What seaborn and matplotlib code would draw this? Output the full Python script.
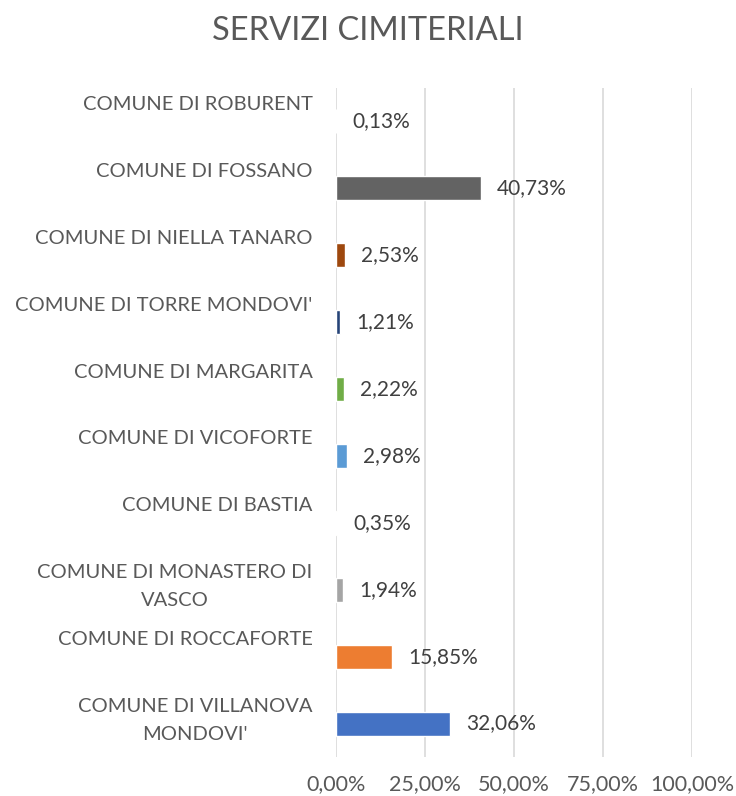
import matplotlib
matplotlib.use("Agg")
import matplotlib.pyplot as plt
import matplotlib.transforms as mtransforms
import seaborn as sns
import pandas as pd
from matplotlib.ticker import FixedLocator

categories = [
    "COMUNE DI ROBURENT",
    "COMUNE DI FOSSANO",
    "COMUNE DI NIELLA TANARO",
    "COMUNE DI TORRE MONDOVI'",
    "COMUNE DI MARGARITA",
    "COMUNE DI VICOFORTE",
    "COMUNE DI BASTIA",
    "COMUNE DI MONASTERO DI\nVASCO",
    "COMUNE DI ROCCAFORTE",
    "COMUNE DI VILLANOVA\nMONDOVI'",
]
values = [0.13, 40.73, 2.53, 1.21, 2.22, 2.98, 0.35, 1.94, 15.85, 32.06]
colors = ["#997300", "#636363", "#9E480E", "#264478", "#70AD47",
          "#5B9BD5", "#FFC000", "#A5A5A5", "#ED7D31", "#4472C4"]
xticks = [0, 25, 50, 75, 100]
xticklabels = ["0,00%", "25,00%", "50,00%", "75,00%", "100,00%"]
title = "SERVIZI CIMITERIALI"

sns.set_theme(style="white")
plt.rcParams["font.family"] = ["Lato", "DejaVu Sans"]

df = pd.DataFrame({"cat": categories, "val": values})

fig = plt.figure(figsize=(7.36, 7.96), dpi=100)
ax = fig.add_axes([336/736, 1-757/796, (692-336)/736, (757-88)/796])

sns.barplot(data=df, y="cat", x="val", hue="cat", palette=colors,
            dodge=False, legend=False, width=0.36, orient="h", ax=ax,
            saturation=1, zorder=3)

ax.set_xlim(0, 100)
ax.set_ylim(9.5, -0.5)
ax.xaxis.set_major_locator(FixedLocator(xticks))
ax.set_xticklabels(xticklabels)
ax.grid(axis="x", color="#D9D9D9", linewidth=1.2, zorder=0)
ax.set_axisbelow(True)
for s in ax.spines.values():
    s.set_visible(False)
ax.set_xlabel("")
ax.set_ylabel("")

# y labels: keep a two-line block for every label
labs = [c if "\n" in c else c + "\n" for c in categories]
ax.set_yticks(range(len(categories)))
ax.set_yticklabels(labs, multialignment="center", linespacing=1.75)
ax.tick_params(axis="y", length=0, pad=17, labelsize=14.5, labelcolor="#595959")
ax.tick_params(axis="x", length=0, pad=12, labelsize=15.5, labelcolor="#595959")
shift = mtransforms.ScaledTranslation(0, 0.10, fig.dpi_scale_trans)
for lab in ax.get_yticklabels():
    lab.set_transform(lab.get_transform() + shift)

for i, v in enumerate(values):
    ax.annotate(f"{v:.2f}%".replace(".", ","), xy=(v, i), xytext=(11.5, 0),
                textcoords="offset points", va="center", ha="left",
                fontsize=15, color="#404040")

fig.text(0.5, 1-31/796, title, ha="center", va="center", fontsize=23.5,
         color="#595959")

fig.savefig("out.png", dpi=100)
